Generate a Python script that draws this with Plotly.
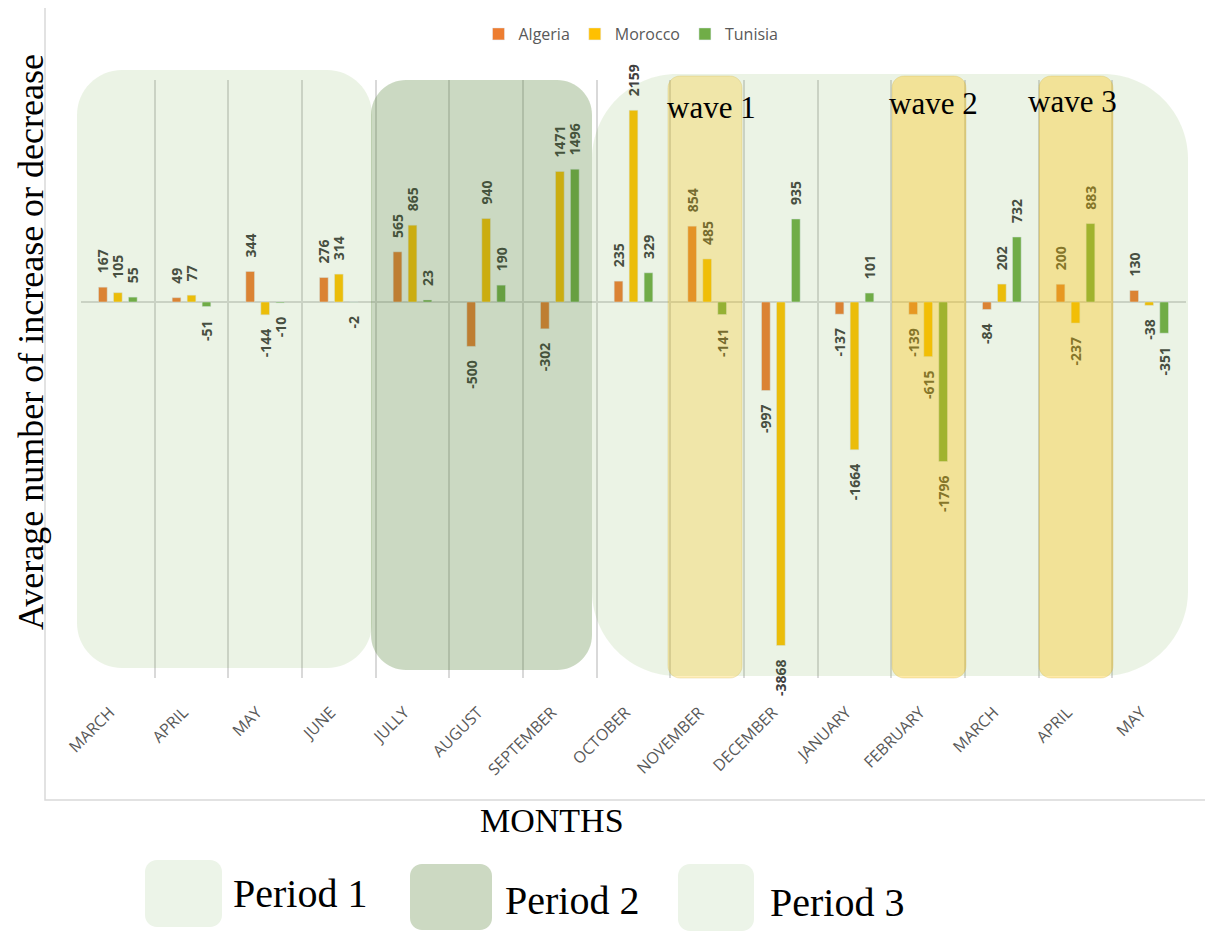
import plotly.graph_objects as go

# ---------------- data ----------------
months = ["MARCH", "APRIL", "MAY", "JUNE", "JULLY", "AUGUST", "SEPTEMBER", "OCTOBER",
          "NOVEMBER", "DECEMBER", "JANUARY", "FEBRUARY", "MARCH", "APRIL", "MAY"]
algeria = [167, 49, 344, 276, 565, -500, -302, 235, 854, -997, -137, -139, -84, 200, 130]
morocco = [105, 77, -144, 314, 865, 940, 1471, 2159, 485, -3868, -1664, -615, 202, -237, -38]
tunisia = [55, -51, -10, -2, 23, 190, 1496, 329, -141, 935, 101, -1796, 732, 883, -351]
series_names = ["Algeria", "Morocco", "Tunisia"]
series_colors = ["#ED7D31", "#FFC000", "#70AD47"]
wave_labels = ["wave 1", "wave 2", "wave 3"]
period_labels = ["Period 1", "Period 2", "Period 3"]

# ---------------- geometry helpers (reference pixels -> paper) ----------------
OFF = 8  # page body margin
X0, X1, Y0, Y1 = 81, 1186, 80, 678
def px(x):
    return (x - X0) / (X1 - X0)
def py(y):
    return (Y1 - y) / (Y1 - Y0)

def rrect(x0, y0, x1, y1, r):
    k = 0.5523 * r
    pts = [("M", [(x0 + r, y0)]), ("L", [(x1 - r, y0)]),
           ("C", [(x1 - r + k, y0), (x1, y0 + r - k), (x1, y0 + r)]),
           ("L", [(x1, y1 - r)]),
           ("C", [(x1, y1 - r + k), (x1 - r + k, y1), (x1 - r, y1)]),
           ("L", [(x0 + r, y1)]),
           ("C", [(x0 + r - k, y1), (x0, y1 - r + k), (x0, y1 - r)]),
           ("L", [(x0, y0 + r)]),
           ("C", [(x0, y0 + r - k), (x0 + r - k, y0), (x0 + r, y0)])]
    s = ""
    for cmd, p in pts:
        s += cmd + " " + " ".join(f"{px(a):.5f},{py(b):.5f}" for a, b in p) + " "
    return s + "Z"

NB = "\u00a0" * 3
def labels(vals):
    return [(NB + str(v)) if v >= 0 else (str(v) + NB) for v in vals]

x_idx = list(range(len(months)))

fig = go.Figure()
for name, vals, col in zip(series_names, [algeria, morocco, tunisia], series_colors):
    fig.add_trace(go.Bar(
        x=x_idx, y=vals, name=name, marker_color=col,
        text=labels(vals), textposition="outside", textangle=-90,
        constraintext="none", cliponaxis=False,
        textfont=dict(family="Open Sans", size=14, color="#404040", weight="bold"),
    ))

shapes = []
# outer chart border
shapes.append(dict(type="rect", xref="paper", yref="paper",
                   x0=px(45), x1=px(1211), y0=py(800), y1=py(3),
                   line=dict(color="#D9D9D9", width=1.5), fillcolor="rgba(0,0,0,0)", layer="below"))
# period regions
shapes.append(dict(type="path", xref="paper", yref="paper", path=rrect(77, 70, 372, 668, 45),
                   fillcolor="rgba(112,173,71,0.14)", line=dict(width=0), layer="above"))
shapes.append(dict(type="path", xref="paper", yref="paper", path=rrect(371, 80, 592, 670, 35),
                   fillcolor="rgba(84,130,53,0.30)", line=dict(width=0), layer="above"))
shapes.append(dict(type="path", xref="paper", yref="paper", path=rrect(592, 74, 1188, 676, 85),
                   fillcolor="rgba(112,173,71,0.14)", line=dict(width=0), layer="above"))
# waves
for (a, b), op in zip([(668, 742), (892, 966), (1039, 1113)], [0.26, 0.34, 0.34]):
    shapes.append(dict(type="path", xref="paper", yref="paper", path=rrect(a, 76, b, 678, 12),
                       fillcolor=f"rgba(255,192,0,{op})",
                       line=dict(color="rgba(200,170,60,0.25)", width=1), layer="above"))
# period legend boxes
for (a, t, b, btm), fc in zip([(145, 860, 222, 927), (410, 864, 492, 930), (678, 864, 754, 931)],
                              ["rgb(236,244,232)", "rgb(204,217,194)", "rgb(236,244,232)"]):
    shapes.append(dict(type="path", xref="paper", yref="paper", path=rrect(a, t, b, btm, 12),
                       fillcolor=fc, line=dict(width=0), layer="above"))

annotations = []
serif = "Liberation Serif"
annotations.append(dict(text="Average number of increase or decrease", xref="paper", yref="paper",
                        x=px(31), y=py(342), textangle=-90, showarrow=False,
                        font=dict(family=serif, size=36, color="black"),
                        xanchor="center", yanchor="middle", borderpad=0))
annotations.append(dict(text="MONTHS", xref="paper", yref="paper", x=px(552), y=py(820),
                        showarrow=False, font=dict(family=serif, size=34, color="black"),
                        xanchor="center", yanchor="middle"))
for lab, xc, yc in zip(wave_labels, [711, 933, 1072], [108, 104, 102]):
    annotations.append(dict(text=lab, xref="paper", yref="paper", x=px(xc), y=py(yc),
                            showarrow=False, font=dict(family=serif, size=31, color="black"),
                            xanchor="center", yanchor="middle"))
for lab, xl, yc in zip(period_labels, [231, 503, 768], [893, 900, 902]):
    annotations.append(dict(text=lab, xref="paper", yref="paper", x=px(xl), y=py(yc),
                            showarrow=False, font=dict(family=serif, size=40, color="black"),
                            xanchor="left", yanchor="middle"))

fig.update_layout(
    width=1213, height=932,
    margin=dict(l=X0 - OFF, r=1213 - X1 + OFF, t=Y0 - OFF, b=932 - Y1 + OFF, autoexpand=False),
    paper_bgcolor="white", plot_bgcolor="white",
    barmode="group", bargap=0.39, bargroupgap=0.42,
    showlegend=True,
    legend=dict(orientation="h", x=px(631), y=py(34), xanchor="center", yanchor="middle",
                font=dict(family="Open Sans", size=16, color="#595959"),
                itemwidth=30, bgcolor="rgba(0,0,0,0)"),
    shapes=shapes, annotations=annotations,
    xaxis=dict(range=[-0.5, len(months) - 0.5], tickvals=x_idx, ticktext=months,
               tickangle=-45, showgrid=False, zeroline=False, showline=False,
               ticks="", ticklabelstandoff=21, ticklabelshift=-8, automargin=False,
               tickfont=dict(family="Open Sans", size=16, color="#595959"),
               minor=dict(tickvals=[i - 0.5 for i in range(len(months) + 1)], showgrid=True,
                          gridcolor="#D9D9D9", gridwidth=1.5, ticks="")),
    yaxis=dict(range=[-4234, 2500], showticklabels=False, showgrid=False,
               zeroline=True, zerolinecolor="#D9D9D9", zerolinewidth=1.5,
               showline=False, ticks="", automargin=False),
)

fig.write_html("out.html")
